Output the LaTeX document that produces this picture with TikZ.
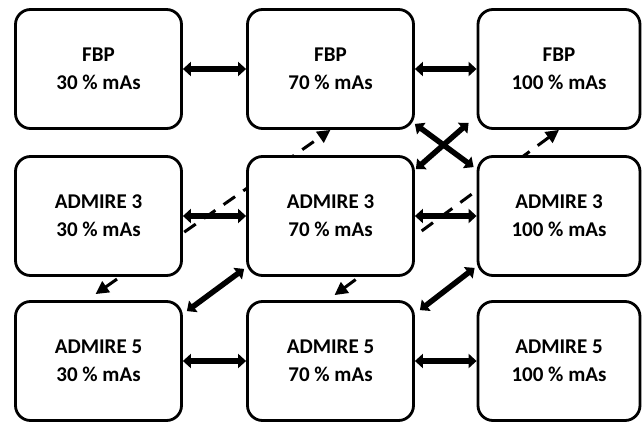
\documentclass[tikz,border=0pt]{standalone}
\usepackage{fontspec}
\setmainfont{Carlito}
\usetikzlibrary{arrows.meta,calc,backgrounds}
\begin{document}
\begin{tikzpicture}[x=1pt,y=-1pt,
  box/.style={draw,line width=2.8pt,rounded corners=15pt,fill=white,
    minimum width=166pt,minimum height=119pt,align=center,inner sep=0pt,
    font=\fontsize{21}{28}\selectfont\bfseries},
  dbl/.style={line width=5.5pt,{Triangle[width=14pt,length=8pt]}-{Triangle[width=14pt,length=8pt]}},
  dsh/.style={line width=3pt,dash pattern=on 14pt off 10pt,{Triangle[width=13pt,length=13pt]}-{Triangle[width=13pt,length=13pt]}}
]
\useasboundingbox (0,0) rectangle (643,423);
\node[box] (f30) at (98.5,69) {FBP\\30 \% mAs};
\node[box] (f70) at (330.5,69) {FBP\\70 \% mAs};
\node[box,minimum width=162pt] (f100) at (559,69) {FBP\\100 \% mAs};
\node[box] (a30) at (98.5,216) {ADMIRE 3\\30 \% mAs};
\node[box] (a70) at (330.5,216) {ADMIRE 3\\70 \% mAs};
\node[box,minimum width=162pt] (a100) at (559,216) {ADMIRE 3\\100 \% mAs};
\node[box] (b30) at (98.5,361) {ADMIRE 5\\30 \% mAs};
\node[box] (b70) at (330.5,361) {ADMIRE 5\\70 \% mAs};
\node[box,minimum width=162pt] (b100) at (559,361) {ADMIRE 5\\100 \% mAs};
\begin{pgfonlayer}{background}
\draw[dsh] ($(b30.north)+(-3,-6)$) -- (f70.south);
\draw[dsh] ($(b70.north)+(4,-5)$) -- (f100.south);
\end{pgfonlayer}
\draw[dbl] (f30.east) -- (f70.west);
\draw[dbl] (f70.east) -- (f100.west);
\draw[dbl] (a30.east) -- (a70.west);
\draw[dbl] (a70.east) -- (a100.west);
\draw[dbl] (b30.east) -- (b70.west);
\draw[dbl] (b70.east) -- (b100.west);
\draw[dbl] ($(f70.south east)+(0,-6)$) -- ($(a100.north west)+(-3,12)$);
\draw[dbl] ($(f100.south west)+(-8,-7)$) -- ($(a70.north east)+(1,14)$);
\draw[dbl] ($(a70.south west)+(-2,-8)$) -- ($(b30.north east)+(4,11)$);
\draw[dbl] ($(a100.south west)+(-2,-9)$) -- ($(b70.north east)+(5,10)$);
\end{tikzpicture}
\end{document}
